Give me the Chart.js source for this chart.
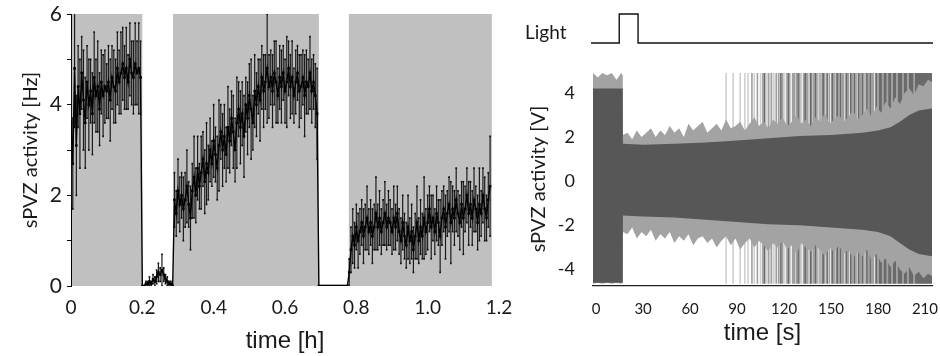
<!DOCTYPE html>
<html>
<head>
<meta charset="utf-8">
<script src="https://cdn.jsdelivr.net/npm/chart.js@4.4.0/dist/chart.umd.min.js"></script>
<style>
html,body{margin:0;padding:0;background:#fff;width:940px;height:356px;overflow:hidden;}
canvas{position:absolute;top:0;}
#left{left:0;}
#right{left:500px;}
#light{left:580px;}
#lightLabel{position:absolute;left:525px;top:20px;font:19px Lato,sans-serif;color:#1a1a1a;}
</style>
</head>
<body>
<canvas id="left" width="515" height="356"></canvas>
<canvas id="right" width="440" height="356"></canvas>
<canvas id="light" width="360" height="60"></canvas>
<div id="lightLabel">Light</div>
<script>
// ---------------- LEFT PANEL DATA (sPVZ activity [Hz] vs time [h]) ----------------
const timeStep = 0.005;                       // bin width [h]
const segStart = [0, 0.2, 0.29, 0.695, 0.78]; // start time of each recorded segment [h]
const shadeStart = [0, 0.286, 0.779];         // grey (dark) periods
const shadeEnd   = [0.2, 0.695, 1.18];
const leftXTicks  = [0, 0.2, 0.4, 0.6, 0.8, 1.0, 1.2];
const leftXLabels = ['0', '0.2', '0.4', '0.6', '0.8', '1.0', '1.2'];
const leftYTicks  = [0, 1, 2, 3, 4, 5, 6];
const leftYLabels = ['0', '', '2', '', '4', '', '6'];

const actA = [3.6,2.7,4.8,3.1,4.4,3.8,4.7,4.1,3.6,4.5,4.0,4.3,3.8,4.6,4.2,4.4,3.9,4.5,4.2,4.4,
              4.3,4.5,4.1,4.6,4.4,4.3,4.8,4.5,4.7,4.9,4.6,4.8,4.5,5.0,4.7,4.6,4.9,4.7,4.8,4.6];
const errA = [1.8,1.0,1.3,1.1,0.9,1.2,0.8,1.1,1.0,0.8,1.0,0.7,0.9,1.0,0.8,1.0,0.8,0.7,0.9,0.8,
              0.6,0.8,0.9,0.7,0.8,0.7,0.8,0.7,0.9,0.8,0.7,0.9,0.6,0.8,0.7,0.8,0.9,0.7,1.0,0.8];
const actB = [0,0,0.05,0.05,0.1,0.05,0.15,0.1,0.2,0.3,0.25,0.35,0.25,0.15,0.1,0.05,0.05,0];
const errB = [0,0,0.05,0.05,0.1,0.05,0.1,0.1,0.15,0.2,0.15,0.35,0.15,0.1,0.1,0.05,0.05,0];
const actC = [1.9,1.6,2.1,1.8,2.0,1.7,1.9,2.2,1.8,1.5,2.1,2.4,2.0,2.6,2.2,2.5,2.8,2.3,2.7,2.5,
              3.0,2.7,3.2,2.9,2.6,3.1,3.4,3.0,3.3,2.9,3.5,3.2,3.7,3.4,3.0,3.6,3.9,3.5,3.8,3.3,
              4.0,3.7,4.2,3.9,3.6,4.3,4.0,4.4,4.1,4.6,4.3,4.5,4.8,4.4,4.6,4.3,4.7,4.5,4.2,4.6,
              4.4,4.7,4.3,4.5,4.8,4.4,4.6,4.2,4.5,4.7,4.3,4.4,4.6,4.2,4.5,4.4,4.7,4.3,4.5,4.2,3.8];
const errC = [0.6,0.5,0.7,0.6,0.5,0.7,0.6,0.8,0.5,0.7,0.6,0.9,0.6,0.7,0.5,0.8,0.6,0.7,0.9,0.6,
              0.7,0.5,0.8,0.6,0.7,1.0,0.6,0.8,0.7,0.6,0.9,0.7,0.6,0.8,0.7,1.0,0.6,0.8,0.7,0.9,
              0.6,0.8,0.7,1.1,0.6,0.8,0.7,0.6,0.9,0.7,0.8,0.6,1.2,0.7,0.6,0.8,0.7,0.9,0.6,0.7,
              0.8,0.6,0.7,1.0,0.6,0.7,0.8,0.6,0.7,0.6,0.8,0.7,0.6,0.9,0.7,0.6,0.8,0.7,0.6,0.7,1.0];
const actD = [0,0,0,0,0,0,0,0,0,0,0,0,0,0,0,0,0];
const errD = [0,0,0,0,0,0,0,0,0,0,0,0,0,0,0,0,0];
const actE = [0.3,0.8,1.1,0.9,1.3,1.0,1.2,1.4,1.1,1.3,1.5,1.2,1.4,1.1,1.3,1.6,1.3,1.5,1.2,1.4,
              1.6,1.3,1.5,1.4,1.2,1.5,1.3,1.6,1.2,1.0,1.4,1.1,0.9,1.3,1.0,1.2,0.8,1.1,1.4,1.0,
              1.3,1.1,1.5,1.2,1.4,1.7,1.3,1.5,1.2,1.6,1.4,1.1,1.5,1.7,1.3,1.6,1.8,1.4,1.7,1.5,
              1.9,1.6,1.4,1.8,1.5,1.7,2.0,1.6,1.8,1.5,1.9,1.7,1.4,1.8,1.6,2.0,1.7,1.5,1.9,2.2];
const errE = [0.3,0.5,0.6,0.5,0.5,0.6,0.5,0.5,0.6,0.5,0.7,0.5,0.5,0.6,0.5,0.8,0.5,0.6,0.5,0.5,
              0.7,0.5,0.6,0.5,0.5,0.7,0.5,0.6,0.5,0.5,0.6,0.5,0.5,0.7,0.5,0.6,0.5,0.5,0.8,0.5,
              0.6,0.5,0.9,0.5,0.6,0.5,0.7,0.5,0.5,0.6,0.5,0.8,0.6,0.5,0.7,0.5,0.6,0.9,0.5,0.6,
              0.7,0.5,0.6,0.5,0.8,0.5,0.6,0.7,0.5,0.6,0.7,0.5,0.6,0.8,0.5,0.6,0.7,0.5,0.6,1.1];

// ---------------- RIGHT PANEL DATA (sPVZ activity [V] vs time [s]) ----------------
const rightXTicks = [0, 30, 60, 90, 120, 150, 180, 210];
const rightYTicks = [-4, -2, 0, 2, 4];
const lightT = [-3, 15, 15, 27, 27, 215];
const lightV = [0, 0, 1, 1, 0, 0];
// dense core of the trace (envelope)
const coreT  = [-2, 17, 17.1, 30, 50, 70, 90, 110, 130, 150, 170, 180, 188, 194, 200, 206, 214.5];
const coreHi = [4.2, 4.2, 1.7, 1.65, 1.7, 1.75, 1.85, 1.95, 2.05, 2.1, 2.2, 2.3, 2.45, 2.7, 3.0, 3.2, 3.3];
const coreLo = [-4.6, -4.6, -1.55, -1.6, -1.65, -1.75, -1.85, -1.95, -2.0, -2.1, -2.2, -2.3, -2.5, -2.8, -3.1, -3.3, -3.4];
// lighter fuzzy fringe of the trace (envelope)
const fringeT  = [-2,1,4,7,10,13,16,17,17.1,20,23,26,29,32,35,38,41,44,47,50,53,56,59,62,65,68,71,74,77,80,
                  83,86,89,92,95,98,101,104,107,110,113,116,119,122,125,128,131,134,137,140,143,146,149,152,
                  155,158,161,164,167,170,173,176,179,182,185,188,191,194,197,200,203,206,209,212,214.5];
const fringeHi = [4.9,4.7,4.9,4.8,4.9,4.6,4.9,4.8,
                  2.1,2.2,1.9,2.3,2.0,2.2,2.4,2.0,2.3,2.1,2.5,2.2,2.4,2.0,2.6,2.3,2.5,2.7,2.2,2.4,
                  2.6,2.3,2.8,2.4,2.5,2.7,2.3,2.6,2.9,2.5,2.7,2.4,2.8,2.6,2.9,2.5,2.7,3.0,2.6,2.8,
                  2.5,2.9,2.7,3.1,2.6,2.8,3.0,2.7,2.9,3.2,2.8,3.0,3.3,2.9,3.4,3.1,3.6,3.3,3.8,3.5,
                  4.0,4.2,3.9,4.4,4.3,4.6,4.5];
const fringeLo = [-4.65,-4.6,-4.65,-4.6,-4.65,-4.6,-4.65,-4.6,
                  -2.3,-2.4,-2.1,-2.6,-2.3,-2.5,-2.2,-2.7,-2.4,-2.6,-2.3,-2.8,-2.5,-2.7,-2.4,-2.9,
                  -2.6,-2.5,-2.8,-2.6,-3.0,-2.7,-2.5,-2.9,-2.6,-3.1,-2.8,-2.6,-3.0,-2.7,-2.9,-3.2,
                  -2.8,-3.0,-2.7,-3.1,-2.9,-3.3,-2.8,-3.0,-3.2,-2.9,-3.1,-3.4,-3.0,-3.2,-2.9,-3.3,
                  -3.1,-3.5,-3.2,-3.4,-3.1,-3.6,-3.3,-3.7,-3.5,-3.9,-3.6,-4.0,-4.2,-3.9,-4.3,-4.1,
                  -4.4,-4.2,-4.3];
// full-amplitude spikes (times in s), three shades
const spikeTop = 4.9, spikeBottom = -4.65;
const spikeLight = [83,87.5,92,95,97,101,105,108.5,111,113.5,117,120,121.5,124,127,131,133,136,138,142,144,
                    148,153,158,163,168,172,177,185,196];
const spikeMid = [99.5,103,106.5,110,112,115,116.5,119,122,125.5,126.5,128,130,132.5,134,135,137.5,139,141,143,
                  144.5,146,149,150.5,152,153.5,155,157,158,159.5,161,163,164,166,168,169,171,172.5,174,176,
                  177,178.5,180,181.5,183,184.5,186,187.5,189,190.5,192,193.5,196,197.5,199,200.5,202.5,203,
                  205.5,207,208.5,210.5,211,213.5];
const spikeDark = [107.5,118,123,129,133.5,137,140,145,147.5,151,154,156,160,162.5,165,167.5,170,173,175,179,181,
                   182,184,185,187,188,190,191,193,194,195,197,198,200,201,202,204,205,
                   206,207,208,209,210,211,212,213,214];

// ---------------- BUILD LEFT ----------------
const segVals = [actA, actB, actC, actD, actE];
const segErrs = [errA, errB, errC, errD, errE];
const meanPts = [], errPts = [];
segVals.forEach((vals, s) => {
  vals.forEach((v, i) => {
    const t = segStart[s] + i * timeStep;
    meanPts.push({x: t, y: v});
    const e = segErrs[s][i];
    if (e > 0) {
      errPts.push({x: t, y: v - e}, {x: t, y: v + e}, {x: t, y: null});
    }
  });
});

const tickFont = 'Lato, sans-serif';
const titleFont = '"Liberation Sans", Arial, sans-serif';
const ink = '#1a1a1a';

const shadePlugin = {
  id: 'shade',
  beforeDraw(chart) {
    const {ctx, scales: {x, y}} = chart;
    ctx.save();
    ctx.fillStyle = '#c0c0c0';
    const yT = y.getPixelForValue(6), yB = y.getPixelForValue(0);
    shadeStart.forEach((s, i) => {
      const x0 = x.getPixelForValue(s), x1 = x.getPixelForValue(shadeEnd[i]);
      ctx.fillRect(x0, yT, x1 - x0, yB - yT);
    });
    ctx.restore();
  }
};

new Chart(document.getElementById('left'), {
  type: 'line',
  data: {
    datasets: [
      {data: meanPts, borderColor: '#000', borderWidth: 1.4, pointRadius: 1.8, pointStyle: 'rect',
       pointBackgroundColor: '#000', pointBorderWidth: 0, order: 0},
      {data: errPts, borderColor: '#1c1c1c', borderWidth: 1.2, pointRadius: 1.2, pointStyle: 'rect',
       pointBackgroundColor: '#111', pointBorderWidth: 0, spanGaps: false, order: 1}
    ]
  },
  options: {
    responsive: false, animation: false, parsing: false,
    layout: {padding: {left: 0, right: 16, top: 14, bottom: 0}},
    plugins: {legend: {display: false}, tooltip: {enabled: false}},
    scales: {
      x: {
        type: 'linear', min: 0, max: 1.2,
        afterBuildTicks: s => { s.ticks = leftXTicks.map(v => ({value: v})); },
        afterFit: s => { s.height = 70; s.paddingLeft = 0; s.paddingRight = 0; },
        grid: {display: false}, border: {display: false},
        ticks: {autoSkip: false, maxRotation: 0, padding: 2, color: ink,
                font: {family: tickFont, size: 19}, callback: (v, i) => leftXLabels[i]},
        title: {display: true, text: 'time [h]', color: ink, padding: {top: 0, bottom: 0},
                font: {family: titleFont, size: 24}}
      },
      y: {
        type: 'linear', min: 0, max: 6,
        afterBuildTicks: s => { s.ticks = leftYTicks.map(v => ({value: v})); },
        afterFit: s => { s.width = 71; s.paddingTop = 0; s.paddingBottom = 0; },
        grid: {display: true, drawOnChartArea: false, drawTicks: true, tickLength: 4, color: '#000'},
        border: {display: true, color: '#000', width: 1},
        ticks: {autoSkip: false, padding: 5, color: ink, font: {family: tickFont, size: 21},
                callback: (v, i) => leftYLabels[i]},
        title: {display: true, text: 'sPVZ activity [Hz]', color: ink, padding: {top: 19, bottom: 0},
                font: {family: tickFont, size: 20}}
      }
    }
  },
  plugins: [shadePlugin]
});

// ---------------- BUILD RIGHT ----------------
const zipPts = (xs, ys) => xs.map((x, i) => ({x, y: ys[i]}));
const spikePts = ts => {
  const out = [];
  ts.forEach(t => out.push({x: t, y: spikeBottom}, {x: t, y: spikeTop}, {x: t, y: null}));
  return out;
};
const envStyle = {borderWidth: 0, borderColor: 'rgba(0,0,0,0)', pointRadius: 0, tension: 0};

new Chart(document.getElementById('right'), {
  type: 'line',
  data: {
    datasets: [
      Object.assign({data: zipPts(coreT, coreHi), fill: '+1', backgroundColor: '#575757', order: 0}, envStyle),
      Object.assign({data: zipPts(coreT, coreLo), fill: false, order: 0}, envStyle),
      Object.assign({data: zipPts(fringeT, fringeHi), fill: '+1', backgroundColor: '#a3a3a3', order: 1}, envStyle),
      Object.assign({data: zipPts(fringeT, fringeLo), fill: false, order: 1}, envStyle),
      {data: spikePts(spikeDark), borderColor: '#6a6a6a', borderWidth: 1.6, pointRadius: 0, spanGaps: false, order: 2},
      {data: spikePts(spikeMid), borderColor: '#a0a0a0', borderWidth: 1.6, pointRadius: 0, spanGaps: false, order: 3},
      {data: spikePts(spikeLight), borderColor: '#cfcfcf', borderWidth: 1.6, pointRadius: 0, spanGaps: false, order: 4}
    ]
  },
  options: {
    responsive: false, animation: false, parsing: false,
    layout: {padding: {left: 0, right: 8, top: 72, bottom: 0}},
    plugins: {legend: {display: false}, tooltip: {enabled: false}, filler: {propagate: false}},
    scales: {
      x: {
        type: 'linear', min: -2, max: 214.5,
        afterBuildTicks: s => { s.ticks = rightXTicks.map(v => ({value: v})); },
        afterFit: s => { s.height = 70; s.paddingLeft = 0; s.paddingRight = 0; },
        grid: {display: false}, border: {display: true, color: '#222', width: 1.2},
        ticks: {autoSkip: false, maxRotation: 0, padding: 6, color: ink, font: {family: tickFont, size: 15}},
        title: {display: true, text: 'time [s]', color: ink, padding: {top: 0, bottom: 8},
                font: {family: titleFont, size: 24}}
      },
      y: {
        type: 'linear', min: -4.75, max: 4.95,
        afterBuildTicks: s => { s.ticks = rightYTicks.map(v => ({value: v})); },
        afterFit: s => { s.width = 93; s.paddingTop = 0; s.paddingBottom = 0; },
        grid: {display: false}, border: {display: false},
        ticks: {autoSkip: false, padding: 10, color: ink, font: {family: tickFont, size: 18}},
        title: {display: true, text: 'sPVZ activity [V]', color: ink, padding: {top: 27, bottom: 0},
                font: {family: tickFont, size: 20}}
      }
    }
  }
});

// ---------------- LIGHT STIMULUS TRACE ----------------
new Chart(document.getElementById('light'), {
  type: 'line',
  data: {datasets: [{data: zipPts(lightT, lightV), borderColor: '#111', borderWidth: 1.4, pointRadius: 0, clip: false}]},
  options: {
    responsive: false, animation: false, parsing: false,
    layout: {padding: {left: 11, right: 7, top: 14, bottom: 17}},
    plugins: {legend: {display: false}, tooltip: {enabled: false}},
    scales: {
      x: {type: 'linear', min: -3, max: 215, display: false},
      y: {type: 'linear', min: 0, max: 1, display: false}
    }
  }
});
</script>
</body>
</html>
